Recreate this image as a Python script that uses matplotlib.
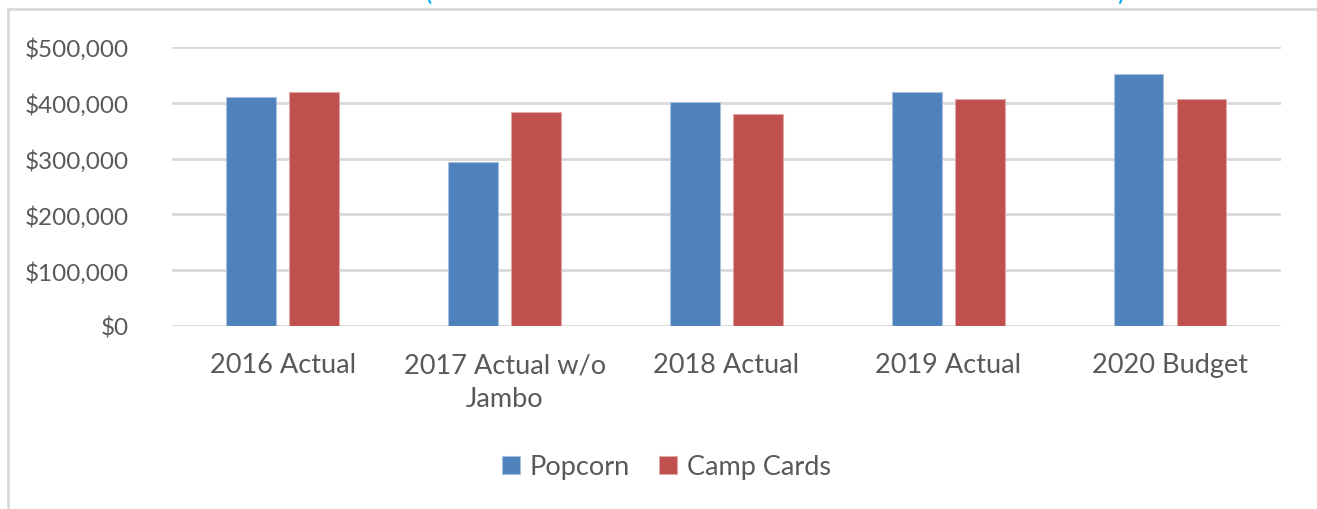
import matplotlib.pyplot as plt
import matplotlib.lines as mlines
from matplotlib.ticker import FuncFormatter
import numpy as np

categories = ['2016 Actual', '2017 Actual w/o\nJambo', '2018 Actual', '2019 Actual', '2020 Budget']
popcorn = [411000, 294000, 402000, 420000, 451000]
camp_cards = [420000, 384000, 379000, 406000, 406000]
series_names = ['Popcorn', 'Camp Cards']

plt.rcParams['font.family'] = ['Lato', 'DejaVu Sans']
text_color = '#595959'
grid_color = '#D9D9D9'

fig = plt.figure(figsize=(13.17, 5.10), dpi=100)
ax = fig.add_axes([0.1306, 0.359, 0.842, 0.547])

x = np.arange(len(categories))
width = 0.225
offset = 0.142
ax.bar(x - offset, popcorn, width, color='#4F81BD', edgecolor='#A7C0DE',
       linewidth=0.8, label=series_names[0], zorder=3)
ax.bar(x + offset, camp_cards, width, color='#C0504D', edgecolor='#DFA8A6',
       linewidth=0.8, label=series_names[1], zorder=3)

ax.set_xlim(-0.5, len(categories) - 0.5)
ax.set_ylim(0, 500000)
ax.set_yticks(np.arange(0, 500001, 100000))
ax.yaxis.set_major_formatter(FuncFormatter(lambda v, p: f'${v:,.0f}'))
ax.set_xticks(x)
ax.set_xticklabels(categories, fontsize=19.5, color=text_color, linespacing=1.45)
ax.tick_params(axis='y', labelsize=17.5, labelcolor=text_color, length=0, pad=31)
ax.tick_params(axis='x', length=0, pad=19)

ax.grid(axis='y', color=grid_color, linewidth=2, zorder=0)
for s in ax.spines.values():
    s.set_visible(False)

ax.legend(loc='center', bbox_to_anchor=(0.506, 1 - 468 / 510), bbox_transform=fig.transFigure,
          ncol=2, frameon=False, fontsize=19.5, handlelength=0.65, handleheight=0.65,
          handletextpad=0.35, columnspacing=1.1, labelcolor=text_color)

# chart area frame (top and left edges visible)
fig.add_artist(mlines.Line2D([8 / 1317, 1], [1 - 10 / 510, 1 - 10 / 510],
                             color=grid_color, linewidth=2, transform=fig.transFigure))
fig.add_artist(mlines.Line2D([8 / 1317, 8 / 1317], [0, 1 - 10 / 510],
                             color=grid_color, linewidth=2, transform=fig.transFigure))

# clipped title remnants (the title itself lies above the visible area)
fig.text(428 / 1317, 1.0, '(', color='#00B0F0', fontsize=20, va='baseline', ha='center')
fig.text(1121 / 1317, 1.0, ')', color='#00B0F0', fontsize=20, va='baseline', ha='center')

fig.savefig('out.png', dpi=100)
